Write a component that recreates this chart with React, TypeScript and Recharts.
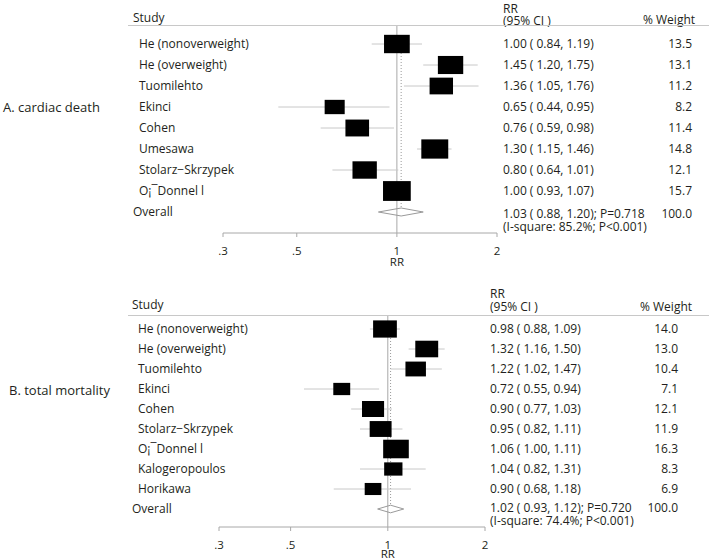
import React from 'react'
import { ScatterChart, Scatter, XAxis, YAxis, ErrorBar, ReferenceLine } from 'recharts'

// A. cardiac death
const studiesA = ['He (nonoverweight)', 'He (overweight)', 'Tuomilehto', 'Ekinci', 'Cohen', 'Umesawa', 'Stolarz\u2212Skrzypek', 'O\u00a1\u00afDonnel l']
const rrA = [1.0, 1.45, 1.36, 0.65, 0.76, 1.3, 0.8, 1.0]
const loA = [0.84, 1.2, 1.05, 0.44, 0.59, 1.15, 0.64, 0.93]
const hiA = [1.19, 1.75, 1.76, 0.95, 0.98, 1.46, 1.01, 1.07]
const weightA = [13.5, 13.1, 11.2, 8.2, 11.4, 14.8, 12.1, 15.7]
const overallA = { rr: 1.03, lo: 0.88, hi: 1.2, p: 'P=0.718', het: '(I-square: 85.2%; P<0.001)' }

// B. total mortality
const studiesB = ['He (nonoverweight)', 'He (overweight)', 'Tuomilehto', 'Ekinci', 'Cohen', 'Stolarz\u2212Skrzypek', 'O\u00a1\u00afDonnel l', 'Kalogeropoulos', 'Horikawa']
const rrB = [0.98, 1.32, 1.22, 0.72, 0.9, 0.95, 1.06, 1.04, 0.9]
const loB = [0.88, 1.16, 1.02, 0.55, 0.77, 0.82, 1.0, 0.82, 0.68]
const hiB = [1.09, 1.5, 1.47, 0.94, 1.03, 1.11, 1.11, 1.31, 1.18]
const weightB = [14.0, 13.0, 10.4, 7.1, 12.1, 11.9, 16.3, 8.3, 6.9]
const overallB = { rr: 1.02, lo: 0.93, hi: 1.12, p: 'P=0.720', het: '(I-square: 74.4%; P<0.001)' }

const xTicks = [0.3, 0.5, 1, 2]

const FONT = '"Open Sans", sans-serif'
const INK = '#231f20'
const LIGHT = '#c8c8c8'
const AXIS = '#a8a8a8'

const fmtTick = (v: number) => (v < 1 ? String(v).replace('0.', '.') : String(v))
const ci = (r: number, l: number, h: number) => `${r.toFixed(2)} ( ${l.toFixed(2)}, ${h.toFixed(2)})`

function ForestPanel(props: any) {
  const { studies, rr, lo, hi, weight, overall, top, height, g } = props
  const n = studies.length

  const rows = studies.map((s: string, i: number) => ({
    x: rr[i],
    y: i,
    w: weight[i],
    err: [rr[i] - lo[i], hi[i] - rr[i]],
  }))
  const dh = 0.19
  const diamond = [
    { x: overall.lo, y: n },
    { x: overall.rr, y: n - dh },
    { x: overall.hi, y: n },
    { x: overall.rr, y: n + dh },
    { x: overall.lo, y: n },
  ]
  const yTicks = Array.from({ length: n + 1 }, (_, i) => i)

  const Box = (p: any) => {
    const s = Math.sqrt(p.payload.w)
    const w = g.kx * s
    const h = g.ky * s
    return <rect x={p.cx - w / 2} y={p.cy - h / 2} width={w} height={h} fill="#000" />
  }

  const RowTick = (p: any) => {
    const i = p.payload.value
    const y = p.y
    const t = { fontFamily: FONT, fontSize: 12, fill: INK }
    if (i === n) {
      return (
        <g>
          <text x={g.overallX} y={y} dy="0.36em" {...t}>Overall</text>
          <text x={g.ciX} y={y + g.ovOff} dy="0.36em" {...t}>{ci(overall.rr, overall.lo, overall.hi) + '; ' + overall.p}</text>
          <text x={g.ciX} y={y + g.ovOff + g.hetGap} dy="0.36em" {...t}>{overall.het}</text>
          <text x={g.wX} y={y + g.ovOff} dy="0.36em" textAnchor="end" {...t}>100.0</text>
        </g>
      )
    }
    return (
      <g>
        <text x={g.nameX} y={y} dy="0.36em" {...t}>{studies[i]}</text>
        <text x={g.ciX} y={y} dy="0.36em" {...t}>{ci(rr[i], lo[i], hi[i])}</text>
        <text x={g.wX} y={y} dy="0.36em" textAnchor="end" {...t}>{weight[i].toFixed(1)}</text>
      </g>
    )
  }

  const AxisTick = (p: any) => {
    const t = { fontFamily: FONT, fontSize: 11.5, fill: INK, textAnchor: 'middle' as const }
    return (
      <g>
        <text x={p.x} y={p.y + g.tickDy} {...t}>{fmtTick(p.payload.value)}</text>
        {p.payload.value === 1 && <text x={p.x} y={p.y + g.rrDy} {...t}>RR</text>}
      </g>
    )
  }

  return (
    <div style={{ position: 'absolute', left: 0, top, width: 709, height }}>
      <ScatterChart
        width={709}
        height={height}
        margin={{ top: g.plotTop, right: 709 - g.xRight, left: 0, bottom: height - g.axisY - 30 }}
      >
        <XAxis
          type="number"
          dataKey="x"
          scale="log"
          domain={[0.3, 2]}
          ticks={xTicks}
          allowDataOverflow
          height={30}
          tickSize={4}
          tickMargin={2}
          stroke={AXIS}
          tick={<AxisTick />}
          interval={0}
        />
        <YAxis
          type="number"
          dataKey="y"
          domain={g.rowDomain}
          reversed
          allowDataOverflow
          ticks={yTicks}
          interval={0}
          width={g.xLeft}
          axisLine={false}
          tickLine={false}
          tick={<RowTick />}
        />
        <ReferenceLine x={1} stroke={AXIS} strokeWidth={1} />
        <ReferenceLine
          segment={[{ x: overall.rr, y: 0 }, { x: overall.rr, y: n - dh }]}
          stroke="#9a9a9a"
          strokeDasharray="1 2"
        />
        <Scatter data={rows} shape={() => <g />} isAnimationActive={false}>
          <ErrorBar dataKey="err" direction="x" width={0} stroke={LIGHT} strokeWidth={1} isAnimationActive={false} />
        </Scatter>
        <Scatter data={rows} shape={<Box />} isAnimationActive={false} />
        <Scatter
          data={diamond}
          shape={() => <g />}
          line={{ stroke: '#9a9a9a', strokeWidth: 1 }}
          lineType="joint"
          isAnimationActive={false}
        />
      </ScatterChart>
    </div>
  )
}

const geomA = {
  plotTop: 25, axisY: 233, xLeft: 223, xRight: 497, rowDomain: [-0.905, 9.0],
  nameX: 139, overallX: 133, ciX: 503, wX: 692, kx: 7.0, ky: 5.0, ovOff: 2, hetGap: 13,
  tickDy: 16, rrDy: 27,
}
const geomB = {
  plotTop: 35, axisY: 247, xLeft: 219, xRight: 485, rowDomain: [-0.7, 9.9],
  nameX: 138, overallX: 132, ciX: 490, wX: 678, kx: 6.35, ky: 4.6, ovOff: -1, hetGap: 13,
  tickDy: 16, rrDy: 25,
}

export default function App() {
  const h = { fontFamily: FONT, fontSize: 12, fill: INK }
  const big = { fontFamily: FONT, fontSize: 13, fill: INK }
  return (
    <div style={{ position: 'absolute', left: 0, top: 0, width: 709, height: 559, background: '#fff' }}>
      <ForestPanel studies={studiesA} rr={rrA} lo={loA} hi={hiA} weight={weightA} overall={overallA} top={0} height={280} g={geomA} />
      <ForestPanel studies={studiesB} rr={rrB} lo={loB} hi={hiB} weight={weightB} overall={overallB} top={280} height={279} g={geomB} />
      <svg width={709} height={559} style={{ position: 'absolute', left: 0, top: 0, pointerEvents: 'none' }}>
        <text x={3} y={112} {...big}>A. cardiac death</text>
        <text x={133} y={22} {...h}>Study</text>
        <text x={503} y={12.5} {...h}>RR</text>
        <text x={503} y={24.5} {...h}>(95% CI )</text>
        <text x={643} y={24} {...h}>% Weight</text>
        <line x1={128} x2={709} y1={25.5} y2={25.5} stroke={LIGHT} />

        <text x={9} y={395} {...big}>B. total mortality</text>
        <text x={132} y={309} {...h}>Study</text>
        <text x={490} y={298} {...h}>RR</text>
        <text x={490} y={311} {...h}>(95% CI )</text>
        <text x={640} y={311} {...h}>% Weight</text>
        <line x1={128} x2={709} y1={315.5} y2={315.5} stroke={LIGHT} />
      </svg>
    </div>
  )
}
